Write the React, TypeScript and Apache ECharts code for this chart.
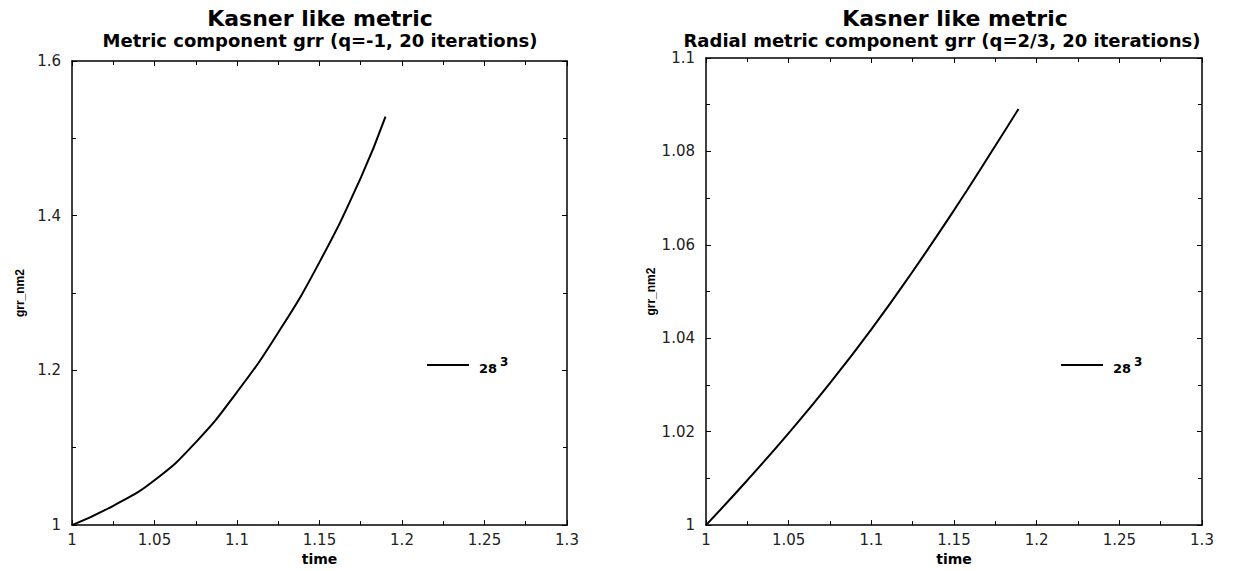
import React, { useEffect, useRef } from "react";
import * as echarts from "echarts";

// ---- data ----
const timeLeft = [1, 1.025, 1.05, 1.075, 1.1, 1.125, 1.15, 1.175, 1.19];
const grrLeft = [1, 1.025, 1.058, 1.107, 1.172, 1.249, 1.34, 1.449, 1.528];
const timeRight = [1, 1.025, 1.05, 1.075, 1.1, 1.125, 1.15, 1.175, 1.189];
const grrRight = [1, 1.0096, 1.0197, 1.0304, 1.0419, 1.0543, 1.0674, 1.0812, 1.0891];

const mainTitle = "Kasner like metric";
const subLeft = "Metric component grr (q=-1, 20 iterations)";
const subRight = "Radial metric component grr (q=2/3, 20 iterations)";
const xName = "time";
const yName = "grr_nm2";
const seriesName = "28";
const seriesSup = "3";

const FONT = "DejaVu Sans";

function fmt(v: number) {
  return String(parseFloat(v.toFixed(3)));
}

function xAxes(grid: number) {
  const common = {
    gridIndex: grid,
    type: "value",
    min: 1,
    max: 1.3,
    interval: 0.05,
    splitLine: { show: false },
    axisLine: { show: true, onZero: false, lineStyle: { color: "#000", width: 1.5 } },
    axisTick: { show: true, inside: true, length: 5, lineStyle: { color: "#000", width: 1 } },
    minorTick: { show: true, splitNumber: 2, length: 4, lineStyle: { color: "#000", width: 1 } },
  };
  return [
    {
      ...common,
      position: "bottom",
      name: xName,
      nameLocation: "middle",
      nameGap: 19,
      nameTextStyle: { fontFamily: FONT, fontWeight: "bold", fontSize: 14, color: "#000" },
      axisLabel: { fontFamily: FONT, fontSize: 15, color: "#222", margin: 7, formatter: fmt },
    },
    { ...common, position: "top", axisLabel: { show: false } },
  ];
}

function yAxes(grid: number, max: number, interval: number, gap: number) {
  const common = {
    gridIndex: grid,
    type: "value",
    min: 1,
    max,
    interval,
    splitLine: { show: false },
    axisLine: { show: true, onZero: false, lineStyle: { color: "#000", width: 1.5 } },
    axisTick: { show: true, inside: true, length: 5, lineStyle: { color: "#000", width: 1 } },
    minorTick: { show: true, splitNumber: 2, length: 4, lineStyle: { color: "#000", width: 1 } },
  };
  return [
    {
      ...common,
      position: "left",
      name: yName,
      nameLocation: "middle",
      nameGap: gap,
      nameTextStyle: { fontFamily: "Liberation Sans", fontWeight: "bold", fontSize: 12, color: "#000" },
      axisLabel: { fontFamily: FONT, fontSize: 15, color: "#222", margin: 11, formatter: fmt },
    },
    { ...common, position: "right", axisLabel: { show: false } },
  ];
}

const legendRich = {
  a: { fontFamily: FONT, fontWeight: "bold", fontSize: 13, color: "#000", padding: [6, 0, 0, 5] },
  b: { fontFamily: FONT, fontWeight: "bold", fontSize: 12, color: "#000", padding: [0, 0, 6, 3] },
};

function makeLegend(left: number) {
  return {
    data: [seriesName],
    left,
    top: 356,
    padding: 0,
    icon: "rect",
    itemWidth: 42,
    itemHeight: 2,
    itemStyle: { color: "#000" },
    formatter: () => `{a|${seriesName}}{b|${seriesSup}}`,
    textStyle: { rich: legendRich },
  };
}

export default function App() {
  const ref = useRef<HTMLDivElement>(null);
  useEffect(() => {
    if (!ref.current) return;
    const chart = echarts.init(ref.current, null, { renderer: "svg" });
    const titleStyle = { fontFamily: FONT, fontWeight: "bold", fontSize: 22, color: "#000" };
    const subStyle = { fontFamily: FONT, fontWeight: "bold", fontSize: 18, color: "#000" };
    chart.setOption({
      animation: false,
      backgroundColor: "#fff",
      title: [
        { text: mainTitle, left: 320, top: 7, textAlign: "center", padding: 0, textStyle: titleStyle },
        { text: subLeft, left: 320, top: 31, textAlign: "center", padding: 0, textStyle: subStyle },
        { text: mainTitle, left: 955, top: 7, textAlign: "center", padding: 0, textStyle: titleStyle },
        { text: subRight, left: 942, top: 31, textAlign: "center", padding: 0, textStyle: subStyle },
      ],
      grid: [
        { left: 72, top: 61, width: 495, height: 471 },
        { left: 706, top: 58, width: 496, height: 471 },
      ],
      xAxis: [...xAxes(0), ...xAxes(1)],
      yAxis: [...yAxes(0, 1.6, 0.2, 46), ...yAxes(1, 1.1, 0.02, 49)],
      legend: [makeLegend(427), makeLegend(1061)],
      series: [
        {
          name: seriesName,
          type: "line",
          xAxisIndex: 0,
          yAxisIndex: 0,
          smooth: 0.5,
          symbol: "none",
          lineStyle: { color: "#000", width: 2 },
          itemStyle: { color: "#000" },
          data: timeLeft.map((t, i) => [t, grrLeft[i]]),
        },
        {
          name: seriesName,
          type: "line",
          xAxisIndex: 2,
          yAxisIndex: 2,
          smooth: 0.5,
          symbol: "none",
          lineStyle: { color: "#000", width: 2 },
          itemStyle: { color: "#000" },
          data: timeRight.map((t, i) => [t, grrRight[i]]),
        },
      ],
    });
    return () => chart.dispose();
  }, []);
  return (
    <div
      ref={ref}
      style={{ position: "fixed", left: 0, top: 0, width: 1233, height: 571, background: "#fff" }}
    />
  );
}
